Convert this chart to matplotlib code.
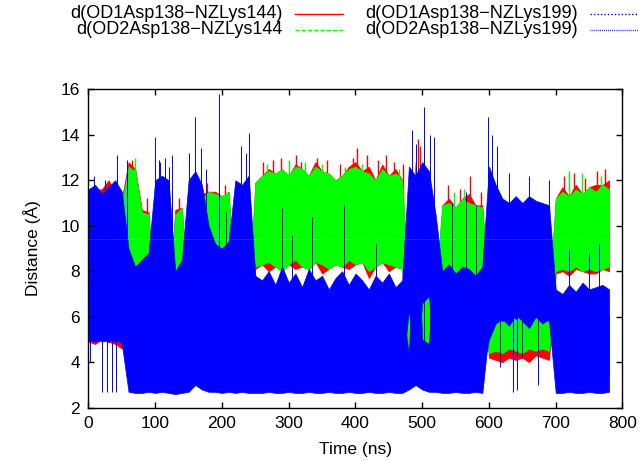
import numpy as np
import matplotlib
matplotlib.use("Agg")
import matplotlib.pyplot as plt
from matplotlib.lines import Line2D

plt.rcParams['font.family'] = ['Liberation Sans', 'DejaVu Sans']

# envelope of each trajectory, read every 10 ns (lower / upper edge, in Angstrom)
time_ns = list(range(0, 790, 10))

od1_144_lo = [4.9, 4.8, 5.0, 4.9, 4.8, 4.6,
              8.2, 7.7, 7.4, 7.5,
              4.5, 4.5, 4.4,
              7.5, 7.7,
              4.4, 4.5,
              8.1, 8.2, 8.2, 8.3, 8.1,
              4.4, 4.3, 4.4,
              8.1, 8.3, 8.0, 8.2, 8.0, 8.3, 8.1, 8.2, 8.1, 8.4, 7.9, 8.1,
              8.3, 8.2, 8.1, 8.3, 8.4, 7.7, 8.2, 8.4, 8.0, 8.2, 8.1,
              3.9, 8.3, 4.2, 4.1, 4.3,
              7.4, 7.7, 7.5, 7.6, 7.5, 7.7, 7.4,
              4.2, 4.1, 4.0, 4.2, 4.1, 4.2, 4.0, 4.3, 4.2, 4.1,
              7.9, 8.0, 7.8, 8.1, 8.0, 7.9, 7.9, 8.1, 8.0]
od1_144_hi = [11.5, 11.6, 11.6, 12.0, 11.5, 11.2,
              12.8, 12.5, 10.7, 10.6,
              6.3, 6.2, 6.5,
              10.7, 10.8,
              6.3, 6.0,
              11.4, 11.5, 11.5, 11.3, 11.5,
              6.3, 6.2, 6.4,
              11.9, 12.2, 12.5, 12.3, 12.5, 12.2, 12.7, 12.5, 12.2, 12.8, 12.4, 12.3,
              12.0, 12.2, 12.6, 12.8, 12.4, 12.6, 12.0, 12.7, 12.2, 12.5, 12.0,
              6.5, 12.8, 7.0, 7.0, 6.9,
              10.9, 11.2, 10.8, 11.2, 11.4, 10.9, 10.9,
              6.4, 6.5, 6.4, 6.4, 6.5, 6.3, 6.4, 6.5, 6.4, 6.6,
              11.2, 11.7, 11.3, 11.8, 11.4, 11.7, 11.8, 11.8, 12.0]

od2_144_lo = [5.2, 5.0, 5.3, 5.1, 5.2, 5.0,
              8.4, 7.9, 7.5, 7.6,
              4.6, 4.7, 4.6,
              7.6, 7.8,
              4.6, 4.7,
              8.2, 8.3, 8.3, 8.4, 8.2,
              4.5, 4.5, 4.6,
              8.2, 8.3, 8.4, 8.2, 8.0, 8.3, 8.5, 8.2, 8.1, 8.4, 8.3, 8.1,
              8.3, 8.2, 8.5, 8.3, 8.4, 8.0, 8.2, 8.4, 8.3, 8.2, 8.1,
              4.4, 8.5, 4.5, 4.4, 4.6,
              7.6, 7.7, 7.5, 7.8, 7.6, 7.7, 7.6,
              4.4, 4.5, 4.4, 4.6, 4.5, 4.4, 4.6, 4.5, 4.6, 4.5,
              8.0, 8.1, 8.0, 8.2, 8.0, 8.1, 8.0, 8.1, 8.2]
od2_144_hi = [11.3, 11.5, 11.2, 11.6, 11.4, 11.0,
              12.6, 12.4, 10.6, 10.5,
              6.5, 6.5, 6.8,
              10.5, 10.8,
              6.5, 6.3,
              11.2, 11.5, 11.4, 11.3, 11.5,
              6.5, 6.6, 6.8,
              11.9, 12.2, 12.4, 12.3, 12.5, 12.2, 12.6, 12.5, 12.2, 12.6, 12.4, 12.3,
              12.0, 12.2, 12.5, 12.6, 12.4, 12.3, 12.0, 12.5, 12.2, 12.3, 12.0,
              6.9, 12.5, 7.4, 7.3, 7.2,
              10.9, 11.0, 10.8, 11.2, 11.0, 10.9, 10.8,
              6.6, 6.8, 6.7, 6.6, 6.7, 6.8, 6.6, 6.7, 6.6, 6.8,
              11.2, 11.5, 11.3, 11.6, 11.4, 11.7, 11.5, 11.8, 11.6]

od1_199_lo = [5.0, 4.9, 5.0, 4.9, 5.1, 4.8,
              2.7, 2.65, 2.65, 2.7,
              2.65, 2.7, 2.65,
              2.6, 2.65,
              2.7, 3.0,
              2.8, 2.7, 2.7, 2.65, 2.7,
              2.65, 2.7, 2.65,
              2.65, 2.65, 2.7, 2.65, 2.65, 2.7, 2.65, 2.65, 2.7, 2.65, 2.65, 2.7,
              2.65, 2.65, 2.7, 2.65, 2.65, 2.7, 2.65, 2.65, 2.7, 2.65, 2.65,
              2.8, 3.0, 2.8, 2.7, 2.7,
              2.65, 2.65, 2.7, 2.65, 2.65, 2.7, 2.65,
              5.4, 6.0, 5.8, 6.2, 5.9, 6.3, 5.7, 6.1, 6.0, 5.8,
              2.65, 2.65, 2.7, 2.65, 2.65, 2.7, 2.65, 2.65, 2.7]
od1_199_hi = [10.8, 11.2, 11.0, 11.3, 11.5, 11.0,
              7.5, 7.0, 7.2, 7.4,
              11.5, 11.0, 11.3,
              7.0, 7.2,
              11.5, 11.8,
              11.0, 9.0, 8.5, 8.0, 8.2,
              11.0, 11.2, 11.5,
              6.5, 6.2, 6.4, 6.0, 6.6, 6.3, 6.5, 6.1, 6.4, 6.2, 6.5, 6.0,
              6.4, 6.6, 6.2, 6.5, 6.3, 6.0, 6.4, 6.2, 6.5, 6.1, 6.4,
              4.3, 11.5, 5.0, 4.8, 9.5,
              6.8, 6.6, 6.9, 6.7, 7.0, 6.6, 6.8,
              11.8, 11.0, 10.6, 10.4, 10.8, 10.5, 10.7, 10.4, 10.6, 10.3,
              6.0, 5.8, 6.1, 5.9, 6.2, 6.0, 5.9, 6.1, 6.0]

od2_199_lo = [4.9, 5.1, 4.9, 5.0, 4.9, 5.0,
              3.5, 3.4, 3.6, 3.5,
              3.0, 3.2, 3.1,
              3.4, 3.5,
              3.0, 3.3,
              3.2, 3.1, 3.3, 3.4, 3.5,
              3.0, 3.1, 3.2,
              3.6, 3.5, 3.6, 3.5, 3.7, 3.4, 3.6, 3.5, 3.7, 3.5, 3.6, 3.4,
              3.6, 3.5, 3.6, 3.5, 3.7, 3.5, 3.6, 3.4, 3.6, 3.5, 3.6,
              6.3, 3.3, 6.6, 6.9, 3.3,
              3.5, 3.6, 3.4, 3.6, 3.5, 3.4, 3.6,
              5.0, 5.7, 5.9, 5.6, 6.1, 5.8, 5.5, 6.0, 5.7, 5.9,
              3.4, 3.5, 3.4, 3.6, 3.5, 3.4, 3.5, 3.6, 3.5]
od2_199_hi = [11.6, 11.8, 11.4, 11.7, 12.0, 11.5,
              9.0, 8.2, 8.5, 8.8,
              12.0, 12.2, 12.0,
              8.0, 8.5,
              12.0, 12.4,
              11.8, 10.0, 9.2, 9.0, 9.3,
              12.0, 11.8, 12.2,
              7.8, 7.6, 8.0, 7.4, 8.2, 7.5, 7.9, 7.3, 8.1, 7.6, 7.8, 7.2,
              7.7, 8.0, 7.4, 7.9, 7.6, 7.2, 7.8, 7.5, 7.9, 7.3, 7.6,
              12.6, 12.2, 12.8, 12.4, 10.5,
              8.0, 8.3, 7.9, 8.2, 8.1, 7.8, 8.2,
              12.6, 11.8, 11.2, 11.0, 11.3, 11.0, 11.3, 11.1, 11.0, 10.9,
              7.2, 7.0, 7.4, 7.1, 7.5, 7.2, 7.3, 7.4, 7.2]

# single frames that stick out of the bands (time, from, to)
red_peak_t = [65, 88, 136, 178, 205, 262, 276, 289, 311, 318, 342, 358, 377,
              396, 403, 418, 433, 446, 458, 471, 493, 497, 538, 556, 571, 588,
              713, 727, 744, 762, 774]
red_peak_lo = [10] * 31
red_peak_hi = [12.9, 11.2, 11.2, 11.9, 11.8, 12.8, 12.9, 13.0, 13.1, 12.8, 13.0,
               12.9, 12.7, 13.0, 13.4, 13.1, 12.9, 13.1, 12.8, 12.7, 13.8, 13.5,
               11.8, 11.6, 12.2, 11.5, 12.2, 12.3, 12.1, 12.4, 12.5]
green_peak_t = [70, 268, 300, 325, 350, 385, 410, 465, 548, 562, 720, 740, 768]
green_peak_lo = [10] * 13
green_peak_hi = [13.0, 12.7, 12.9, 12.8, 12.7, 12.6, 12.7, 12.5, 11.5, 11.6,
                 12.4, 12.3, 12.2]

spike_t = [3, 8, 20, 25, 28, 35, 41, 43, 57, 100, 105, 107, 115, 120, 125, 150,
           160, 168, 176, 196, 206, 228, 236, 241, 290, 305, 335, 383, 430, 485,
           490, 503, 512, 517, 545, 565, 580, 599, 604, 612, 617, 630, 636, 642,
           650, 660, 673, 690, 720, 750, 765]
spike_lo = [4.0, 6, 2.7, 6, 2.7, 2.7, 2.7, 6, 6, 5, 5, 5, 5, 5, 5, 5,
            5, 5, 5, 5, 5, 5, 5, 5, 4, 4, 4, 4, 4, 3,
            3, 3, 3, 3, 4, 4, 4, 6, 6, 6, 3.8, 6, 2.7, 2.8,
            4.2, 6, 3.0, 6, 4, 4, 4]
spike_hi = [6, 12.2, 6, 12.0, 6, 6, 6, 13.1, 12.9, 13.9, 12.9, 12.8, 13.0, 12.6, 13.1, 13.2,
            14.8, 13.4, 12.5, 15.8, 10.6, 13.5, 13.2, 14.1, 10.8, 9.6, 10.4, 10.9, 9.2, 14.2,
            13.6, 15.2, 14.0, 13.9, 11.0, 11.5, 10.9, 14.8, 14.0, 13.5, 6, 12.3, 6, 6,
            6, 12.2, 6, 12.0, 9.0, 8.8, 9.2]

labels = ["d(OD1Asp138\u2212NZLys144)", "d(OD2Asp138\u2212NZLys144",
          "d(OD1Asp138\u2212NZLys199)", "d(OD2Asp138\u2212NZLys199)"]
RED, GREEN, BLUE = "#ff0000", "#00ff00", "#0000ff"

fig = plt.figure(figsize=(6.43, 4.61), dpi=100)
ax = fig.add_axes([0.1376, 0.1156, 0.8305, 0.6907])

# draw in plotting order: Lys144 pair first, Lys199 pair on top
ax.fill_between(time_ns, od1_144_lo, od1_144_hi, color=RED, lw=0.5, zorder=1.0)
ax.vlines(red_peak_t, red_peak_lo, red_peak_hi, color=RED, lw=1.0, zorder=1.1)
ax.fill_between(time_ns, od2_144_lo, od2_144_hi, color=GREEN, lw=0.5, zorder=1.2)
ax.vlines(green_peak_t, green_peak_lo, green_peak_hi, color=GREEN, lw=1.0, zorder=1.3)
ax.fill_between(time_ns, od1_199_lo, od1_199_hi, color=BLUE, lw=0.5, zorder=1.4)
ax.fill_between(time_ns, od2_199_lo, od2_199_hi, color=BLUE, lw=0.5, zorder=1.5)
ax.vlines(spike_t, spike_lo, spike_hi, color=BLUE, lw=0.7, zorder=1.6)
ax.axhline(9.4, color="white", alpha=0.15, lw=0.6, zorder=1.7)

ax.set_xlim(0, 800)
ax.set_ylim(2, 16)
ax.set_xticks(range(0, 801, 100))
ax.set_yticks(range(2, 17, 2))
ax.tick_params(direction="in", top=True, right=True, length=4, width=1,
               labelsize=12.5, pad=6)
for sp in ax.spines.values():
    sp.set_linewidth(1)
    sp.set_zorder(3)
ax.set_xlabel("Time (ns)", fontsize=12.5, labelpad=8)
ax.set_ylabel("Distance (\u00c5)", fontsize=12.5, labelpad=14)

# gnuplot style key: text right aligned, sample to its right
W, H = 643.0, 461.0
key = [(283, 14, RED, "-", labels[0]),
       (283, 30, GREEN, (0, (3, 1.5)), labels[1]),
       (578, 14, BLUE, (0, (1, 1.5)), labels[2]),
       (578, 30, BLUE, (0, (0.6, 0.8)), labels[3])]
for xr, yc, col, ls, txt in key:
    fig.text(xr / W, 1 - yc / H, txt, ha="right", va="center", fontsize=13)
    fig.add_artist(Line2D([(xr + 12) / W, (xr + 60) / W], [1 - yc / H] * 2,
                          color=col, lw=1, ls=ls))

fig.savefig("out.png", dpi=100)
